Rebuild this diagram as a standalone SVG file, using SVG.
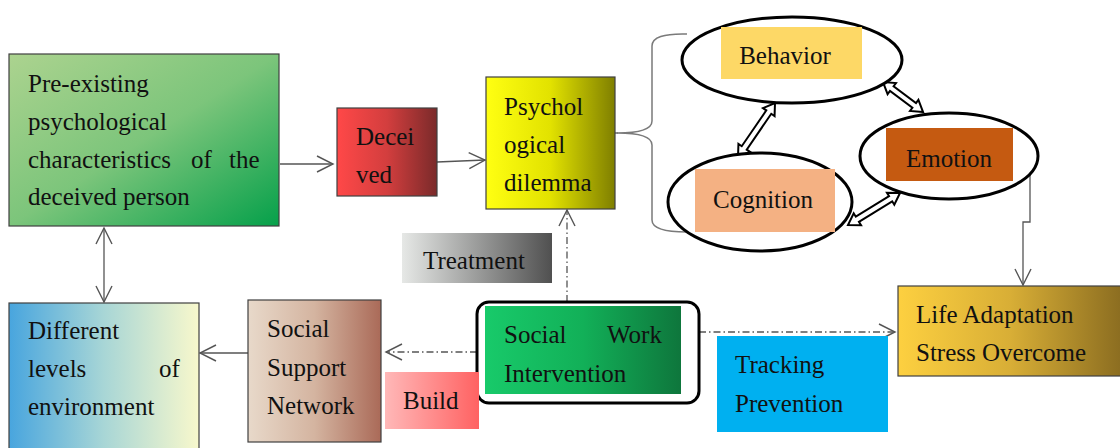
<svg xmlns="http://www.w3.org/2000/svg" width="1120" height="448" viewBox="0 0 1120 448">
<style>
text{font-family:"Liberation Serif","Times New Roman",serif;font-size:25px;fill:#111}
.box{stroke:#404040;stroke-width:1.2}
.con{fill:none;stroke:#555;stroke-width:1.3}
.dd{stroke-dasharray:7 3 1.5 3}
.ell{fill:#fff;stroke:#000;stroke-width:3}
.blk{fill:#fff;stroke:#000;stroke-width:2;stroke-linejoin:miter}
</style>
<defs>
<marker id="ah" markerUnits="userSpaceOnUse" markerWidth="20" markerHeight="20" viewBox="0 0 20 20" refX="17" refY="10" orient="auto-start-reverse">
<path d="M1,2 L17,10 L1,18" fill="none" stroke="#555" stroke-width="1.4"/>
</marker>
<linearGradient id="gPre" x1="0" y1="0" x2="1" y2="1"><stop offset="0" stop-color="#acd38f"/><stop offset="0.5" stop-color="#7cc57b"/><stop offset="1" stop-color="#05a04a"/></linearGradient>
<linearGradient id="gDec" x1="0" y1="0" x2="1" y2="0"><stop offset="0" stop-color="#ff4848"/><stop offset="0.5" stop-color="#d33e3e"/><stop offset="1" stop-color="#7a2a2a"/></linearGradient>
<linearGradient id="gPsy" x1="0" y1="0" x2="1" y2="0"><stop offset="0" stop-color="#ffff12"/><stop offset="0.5" stop-color="#e2e200"/><stop offset="1" stop-color="#7f7f00"/></linearGradient>
<linearGradient id="gTre" x1="0" y1="0" x2="1" y2="0"><stop offset="0" stop-color="#e6e8e6"/><stop offset="1" stop-color="#505050"/></linearGradient>
<linearGradient id="gBui" x1="0" y1="0" x2="1" y2="0"><stop offset="0" stop-color="#ffb8b8"/><stop offset="1" stop-color="#ff6262"/></linearGradient>
<linearGradient id="gSsn" x1="0" y1="0" x2="1" y2="0"><stop offset="0" stop-color="#e8d9ca"/><stop offset="0.5" stop-color="#d4b4a0"/><stop offset="1" stop-color="#aa6a58"/></linearGradient>
<linearGradient id="gDif" x1="0" y1="0" x2="1" y2="0"><stop offset="0" stop-color="#48a5de"/><stop offset="0.5" stop-color="#a8d6d6"/><stop offset="1" stop-color="#f8f8cc"/></linearGradient>
<linearGradient id="gSwi" x1="0" y1="0" x2="1" y2="0"><stop offset="0" stop-color="#18ca6a"/><stop offset="0.5" stop-color="#12b058"/><stop offset="1" stop-color="#0e763c"/></linearGradient>
<linearGradient id="gLif" x1="0" y1="0" x2="1" y2="0"><stop offset="0" stop-color="#fdd040"/><stop offset="0.5" stop-color="#d8ae36"/><stop offset="1" stop-color="#8a6c20"/></linearGradient>
</defs>

<g id="connectors">
<line class="con" x1="280" y1="164" x2="333" y2="164" marker-end="url(#ah)"/>
<line class="con" x1="437" y1="162" x2="485" y2="160" marker-end="url(#ah)"/>
<line class="con" x1="104" y1="228" x2="104" y2="302" marker-start="url(#ah)" marker-end="url(#ah)"/>
<line class="con" x1="248" y1="353" x2="200" y2="353" marker-end="url(#ah)"/>
<line class="con dd" x1="477" y1="352" x2="386" y2="352" marker-end="url(#ah)"/>
<line class="con dd" x1="567" y1="302" x2="567" y2="210" marker-end="url(#ah)"/>
<line class="con dd" x1="699" y1="332" x2="895" y2="332" marker-end="url(#ah)"/>
<polyline class="con" points="1030,173 1030,222 1023,222 1023,285" marker-end="url(#ah)"/>
<line class="con" x1="615" y1="133" x2="618" y2="133"/>
<path d="M687,34 Q652,33 652,46 L652,121 Q652,133 617,133 Q652,133 652,145 L652,220 Q652,232 687,232" fill="none" stroke="#7a7a7a" stroke-width="1.5"/>
<polygon class="blk" points="775,103 774.56,116.04 771.26,113.78 746.70,149.62 750.00,151.88 738,157 738.44,143.96 741.74,146.22 766.30,110.38 763.00,108.12"/>
<polygon class="blk" points="923,112 910,111 912.4,107.8 890,91 887.6,94.2 883,82 896,83 893.6,86.2 916,103 918.4,99.8"/>
<polygon class="blk" points="900,193 894.30,204.72 892.20,201.32 858.94,221.80 861.04,225.20 848,225 853.70,213.28 855.80,216.68 889.06,196.20 886.96,192.80"/>
</g>

<g id="pre-existing">
<rect class="box" x="9" y="54" width="270" height="172" fill="url(#gPre)"/>
<text x="28" y="92">Pre-existing</text>
<text x="28" y="130">psychological</text>
<text x="28" y="168">characteristics</text>
<text x="191" y="168">of</text>
<text x="229" y="168">the</text>
<text x="28" y="205">deceived person</text>
</g>

<g id="deceived">
<rect class="box" x="337" y="108" width="100" height="88" fill="url(#gDec)"/>
<text x="356" y="145">Decei</text>
<text x="356" y="183">ved</text>
</g>

<g id="dilemma">
<rect class="box" x="486" y="77" width="129" height="132" fill="url(#gPsy)"/>
<text x="504" y="115">Psychol</text>
<text x="504" y="153">ogical</text>
<text x="504" y="191">dilemma</text>
</g>

<g id="behavior">
<ellipse class="ell" cx="792" cy="60" rx="110" ry="43"/>
<rect x="721" y="27" width="141" height="52" fill="#fdd866"/>
<text x="785" y="64" text-anchor="middle">Behavior</text>
</g>

<g id="emotion">
<ellipse class="ell" cx="949" cy="156" rx="89" ry="43"/>
<rect x="886" y="128" width="127" height="53" fill="#c55a11"/>
<text x="949" y="167" text-anchor="middle">Emotion</text>
</g>

<g id="cognition">
<ellipse class="ell" cx="760" cy="202" rx="92" ry="49"/>
<rect x="695" y="169" width="140" height="63" fill="#f4b183"/>
<text x="763" y="208" text-anchor="middle">Cognition</text>
</g>

<g id="treatment">
<rect x="402" y="233" width="150" height="50" fill="url(#gTre)"/>
<text x="423" y="269">Treatment</text>
</g>

<g id="social-work">
<rect x="477" y="302" width="222" height="101" rx="12" fill="#fff" stroke="#000" stroke-width="3"/>
<rect x="485" y="306" width="196" height="88" fill="url(#gSwi)"/>
<text x="504" y="343">Social</text>
<text x="607" y="343">Work</text>
<text x="504" y="382">Intervention</text>
</g>

<g id="build">
<rect x="385" y="372" width="94" height="57" fill="url(#gBui)"/>
<text x="403" y="409">Build</text>
</g>

<g id="social-support">
<rect class="box" x="248" y="300" width="133" height="142" fill="url(#gSsn)"/>
<text x="267" y="337">Social</text>
<text x="267" y="376">Support</text>
<text x="267" y="414">Network</text>
</g>

<g id="environment">
<rect class="box" x="9" y="303" width="190" height="150" fill="url(#gDif)"/>
<text x="28" y="339">Different</text>
<text x="28" y="377">levels</text>
<text x="159" y="377">of</text>
<text x="28" y="415">environment</text>
</g>

<g id="tracking">
<rect x="717" y="336" width="171" height="96" fill="#00b0f0"/>
<text x="735" y="373">Tracking</text>
<text x="735" y="412">Prevention</text>
</g>

<g id="life-adaptation">
<rect class="box" x="898" y="286" width="225" height="90" fill="url(#gLif)"/>
<text x="916" y="323">Life Adaptation</text>
<text x="916" y="361">Stress Overcome</text>
</g>
</svg>
